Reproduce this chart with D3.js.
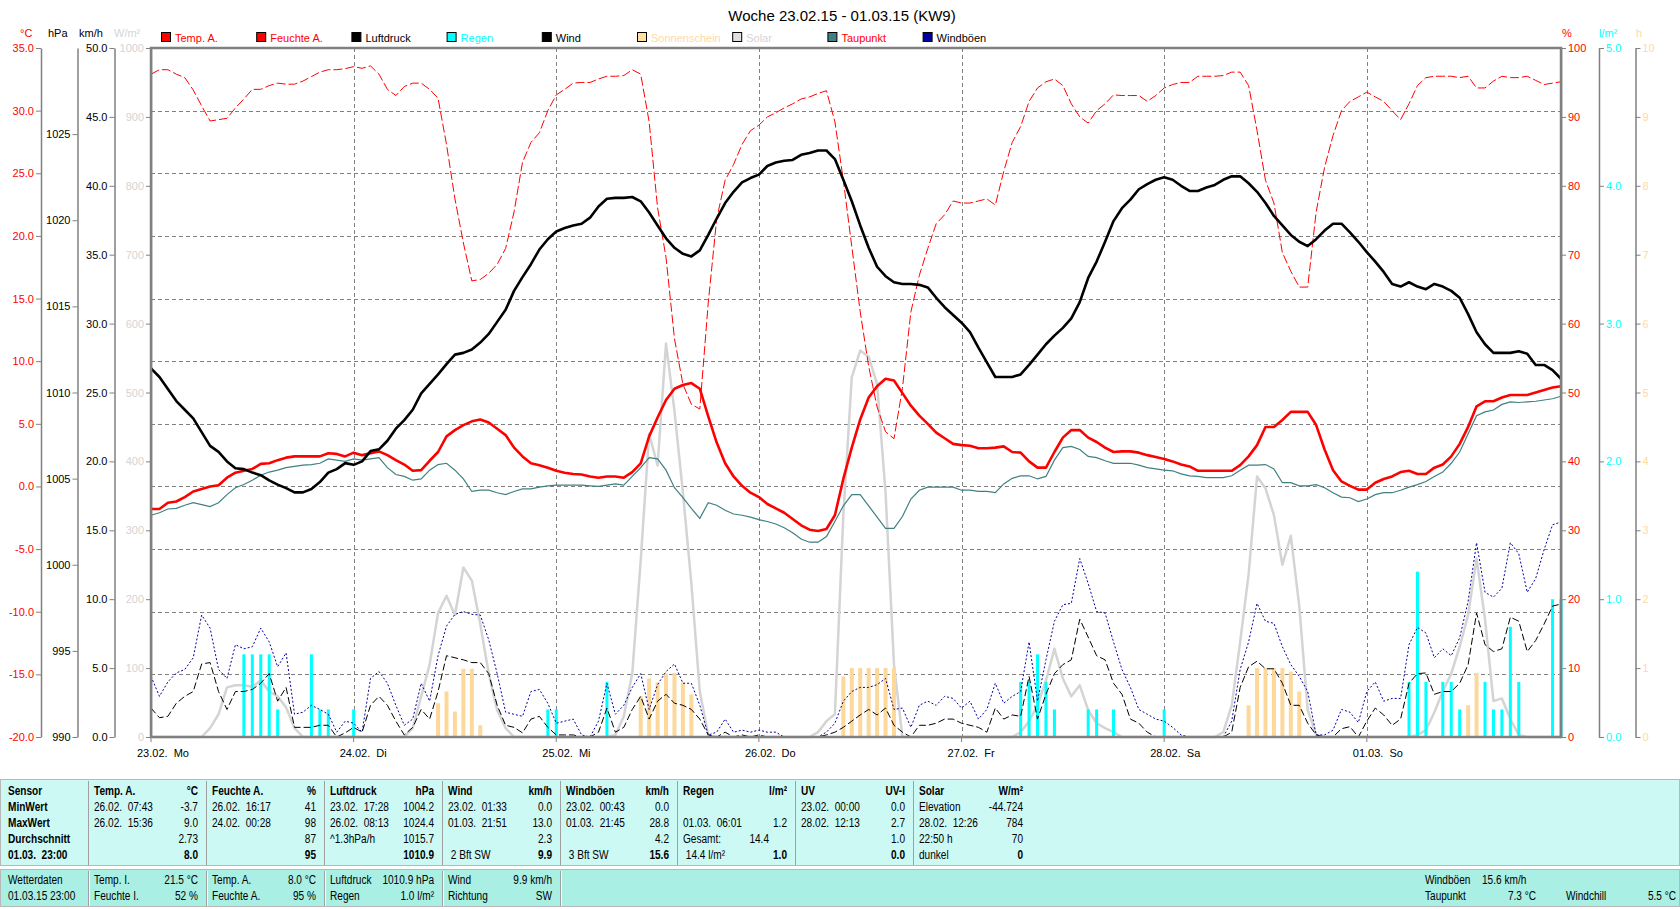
<!DOCTYPE html>
<html><head><meta charset="utf-8">
<script src="https://cdn.jsdelivr.net/npm/d3@7"></script>
<style>
body{margin:0;background:#fff;}
svg{display:block;}
text{font-family:"Liberation Sans",Arial,sans-serif;}
.tbl text{font-family:"Liberation Sans Narrow","Liberation Sans",Arial,sans-serif;font-size:12px;}
</style></head><body>
<svg id="c" width="1680" height="909"></svg>
<script>
// ---------------- DATA ----------------
const title = "Woche 23.02.15 - 01.03.15 (KW9)";
const dayLabels = ["23.02.  Mo","24.02.  Di","25.02.  Mi","26.02.  Do","27.02.  Fr","28.02.  Sa","01.03.  So"];
const dayStartHours = [0,24,48,72,96,120,144];

const tempTicks = [-20,-15,-10,-5,0,5,10,15,20,25,30,35];
const hpaTicks = [990,995,1000,1005,1010,1015,1020,1025];
const kmhTicks = [0,5,10,15,20,25,30,35,40,45,50];
const solarTicks = [0,100,200,300,400,500,600,700,800,900,1000];
const humTicks = [0,10,20,30,40,50,60,70,80,90,100];
const rainTicks = [0,1,2,3,4,5];
const sunTicks = [0,1,2,3,4,5,6,7,8,9,10];

// hourly values, 23.02 00:00 .. 01.03 23:00
const temp = [-1.8,-1.8,-1.3,-1.2,-0.85,-0.4,-0.2,0.0,0.1,0.7,
1.1,1.25,1.4,1.8,1.85,2.1,2.3,2.4,2.4,2.4,
2.4,2.65,2.6,2.4,2.7,2.5,2.65,2.8,2.5,2.1,
1.75,1.25,1.3,2.05,2.75,4.0,4.5,4.9,5.2,5.35,
5.1,4.6,4.1,3.1,2.4,1.85,1.7,1.5,1.25,1.1,
1.0,0.95,0.8,0.7,0.8,0.8,0.7,1.15,1.85,4.0,
5.5,6.9,7.8,8.1,8.25,7.8,5.6,3.5,1.85,0.8,
0.05,-0.5,-0.85,-1.4,-1.75,-2.1,-2.6,-3.1,-3.45,-3.55,
-3.4,-2.3,0.6,3.1,5.35,7.1,8.0,8.6,8.45,7.45,
6.45,5.65,5.0,4.3,3.85,3.4,3.3,3.25,3.05,3.05,
3.1,3.2,2.75,2.7,2.0,1.5,1.5,2.75,3.9,4.5,
4.5,3.9,3.55,3.1,2.75,2.8,2.8,2.7,2.5,2.35,
2.2,2.0,1.75,1.6,1.25,1.25,1.25,1.25,1.25,1.7,
2.4,3.3,4.75,4.75,5.3,5.95,5.95,5.95,4.9,2.95,
1.3,0.4,0.05,-0.25,-0.25,0.3,0.6,0.8,1.15,1.25,
1.0,1.0,1.5,1.75,2.4,3.4,4.75,6.4,6.8,6.8,
7.1,7.3,7.3,7.3,7.5,7.7,7.9,8.0];

const dewPoint = [-2.3,-2.1,-1.8,-1.75,-1.5,-1.3,-1.45,-1.6,-1.3,-0.65,
-0.1,0.15,0.5,0.9,1.15,1.3,1.5,1.6,1.7,1.75,
1.85,2.2,2.1,2.0,2.2,2.1,2.2,2.3,1.5,0.95,
0.8,0.5,0.6,1.3,1.75,1.85,1.3,0.6,-0.4,-0.3,
-0.3,-0.5,-0.65,-0.4,-0.2,-0.2,-0.05,0.05,0.1,0.1,
0.1,0.1,0.05,0.0,0.1,0.2,0.1,0.8,1.5,2.3,
2.2,1.3,-0.1,-0.9,-1.75,-2.55,-1.3,-1.5,-1.9,-2.2,
-2.3,-2.45,-2.65,-2.8,-3.0,-3.3,-3.7,-4.2,-4.45,-4.45,
-4.0,-2.8,-1.55,-0.65,-0.65,-1.55,-2.45,-3.35,-3.35,-2.4,
-1.0,-0.3,-0.05,-0.05,-0.05,-0.05,-0.3,-0.3,-0.4,-0.4,
-0.5,0.2,0.65,0.85,0.85,0.6,0.8,2.1,3.1,3.2,
2.95,2.4,2.3,2.05,1.85,1.85,1.85,1.7,1.5,1.4,
1.3,1.25,1.0,0.85,0.8,0.7,0.7,0.7,0.85,1.3,
1.7,1.7,1.75,1.4,0.3,0.3,0.05,0.05,0.15,-0.1,
-0.5,-0.85,-0.9,-1.2,-1.0,-0.65,-0.5,-0.5,-0.3,-0.05,
0.15,0.4,0.8,1.15,1.85,2.75,4.2,5.65,5.95,6.1,
6.55,6.75,6.7,6.75,6.8,6.9,7.0,7.2];

const pressure = [1011.4,1010.9,1010.2,1009.5,1009.0,1008.5,1007.7,1006.9,1006.55,1006.0,
1005.6,1005.55,1005.35,1005.2,1004.9,1004.65,1004.45,1004.2,1004.2,1004.4,
1004.8,1005.35,1005.55,1005.9,1005.8,1006.0,1006.6,1006.7,1007.2,1007.9,
1008.4,1009.0,1009.95,1010.5,1011.05,1011.65,1012.2,1012.3,1012.5,1012.9,
1013.4,1014.1,1014.8,1015.9,1016.7,1017.45,1018.3,1018.9,1019.35,1019.55,
1019.7,1019.8,1020.15,1020.8,1021.25,1021.3,1021.3,1021.35,1021.1,1020.45,
1019.7,1018.95,1018.4,1018.05,1017.9,1018.25,1019.15,1020.1,1021.0,1021.65,
1022.2,1022.45,1022.65,1023.15,1023.35,1023.45,1023.5,1023.8,1023.9,1024.05,
1024.05,1023.55,1022.35,1021.1,1019.7,1018.4,1017.3,1016.75,1016.4,1016.3,
1016.3,1016.25,1016.1,1015.5,1014.95,1014.5,1014.05,1013.5,1012.6,1011.75,
1010.9,1010.9,1010.9,1011.05,1011.6,1012.2,1012.8,1013.3,1013.75,1014.3,
1015.25,1016.65,1017.6,1018.75,1019.95,1020.7,1021.2,1021.8,1022.1,1022.35,
1022.5,1022.35,1022.0,1021.7,1021.7,1021.9,1022.05,1022.35,1022.55,1022.55,
1022.15,1021.65,1021.0,1020.25,1019.7,1019.15,1018.75,1018.5,1018.9,1019.4,
1019.8,1019.8,1019.3,1018.75,1018.15,1017.6,1017.0,1016.3,1016.15,1016.4,
1016.15,1016.0,1016.3,1016.15,1015.9,1015.5,1014.55,1013.5,1012.8,1012.3,
1012.3,1012.3,1012.4,1012.25,1011.6,1011.6,1011.3,1010.8];

const humidity = [96.2,96.85,96.85,96.2,95.7,93.9,91.6,89.4,89.6,89.8,
91.3,92.6,94.0,94.0,94.55,94.9,94.75,94.75,95.2,95.85,
96.5,96.85,96.85,97.0,97.3,97.05,97.4,96.2,94.0,93.1,
94.4,94.9,94.9,94.0,92.7,86.0,78.1,71.7,66.2,66.4,
67.3,68.6,70.9,76.2,83.4,86.3,87.7,90.9,93.2,94.0,
94.9,95.0,95.0,95.5,95.9,95.9,96.0,96.85,96.2,89.3,
76.8,69.6,57.8,51.2,48.3,47.6,63.0,75.2,80.8,83.1,
86.0,88.0,88.8,90.0,90.6,91.3,91.9,92.6,92.9,93.4,
93.8,89.3,80.8,71.2,61.7,53.8,47.9,44.3,43.3,50.6,
61.7,67.0,70.9,74.5,75.8,77.8,77.5,77.5,77.8,78.1,
77.2,82.1,86.3,88.6,92.25,94.2,95.1,95.5,94.55,91.9,
90.0,89.1,90.9,91.9,93.2,93.1,93.1,93.1,92.25,93.1,
94.2,94.7,95.0,95.0,95.9,95.9,95.9,96.0,96.5,96.5,
94.55,88.0,80.8,77.5,70.3,67.6,65.3,65.3,76.2,82.7,
87.3,90.9,92.25,92.9,93.6,92.9,92.25,90.9,89.6,91.9,
94.55,95.7,95.9,95.9,95.9,95.7,95.9,94.2,94.2,95.2,
95.9,95.7,95.7,95.9,95.3,94.7,94.9,95.1];

const solar = [0,0,0,0,0,0,0,13,33,72,
75,75,73,82,66,59,43,13,0,0,
0,0,0,0,0,0,0,0,0,0,
0,13,59,105,180,205,177,246,227,164,
92,39,13,0,0,0,0,0,0,0,
0,0,0,0,0,3,30,92,256,440,
394,571,473,355,223,66,3,0,0,0,
0,0,0,0,0,0,0,0,0,7,
23,33,322,522,561,552,512,355,105,0,
0,0,0,0,0,0,0,0,0,0,
0,0,0,7,23,46,82,128,85,59,
75,39,20,13,7,0,0,0,0,0,
0,0,0,0,0,0,0,7,46,138,
236,378,361,322,250,292,190,39,3,0,
0,0,0,0,0,0,0,0,0,0,
3,10,36,66,92,131,177,259,171,52,
56,26,3,0,0,0,0,0];

const wind = [2.1,1.4,1.5,2.45,2.95,3.3,5.3,5.4,3.3,2.0,
3.3,3.3,3.45,3.9,4.6,2.6,3.6,0.7,0.7,0.7,
0.85,0.85,0,0.3,0.7,0.35,2.3,2.95,2.3,1.15,
0.15,0.7,2.0,1.3,3.3,5.9,5.75,5.6,5.4,5.4,
4.6,2.3,0.85,0.7,0.3,1.3,1.5,0.7,0.15,0.15,
0.15,0,0,0.35,2.1,0.35,0.7,2.0,2.95,1.3,
2.6,3.1,2.45,2.3,2.0,1.3,0.15,0,0.35,0,
0.15,0,0.15,0,0,0,0,0,0,0,
0.15,0.35,0.7,1.15,1.6,2.0,1.6,2.1,0.85,0.35,
0,0.85,0.85,1.0,1.3,1.3,1.0,0.85,0.7,0.35,
2.1,1.3,1.6,1.5,4.4,1.3,3.1,4.6,5.25,5.6,
8.55,7.25,5.9,5.6,3.9,3.1,1.3,1.0,0.35,0,
0,0,0,0,0,0,0,0,0.35,3.6,
5.1,5.5,4.95,4.95,3.9,2.3,2.3,1.0,0.15,0,
0,0.6,0.75,0,1.15,2.1,1.6,0.85,1.3,3.9,
4.6,4.65,3.1,3.3,3.3,3.9,5.25,9.0,6.7,6.2,
6.4,8.7,8.4,6.2,7.0,8.2,9.5,9.65];

const gusts = [4.4,2.95,4.0,4.65,4.9,5.75,8.85,7.9,4.9,4.25,
6.7,6.4,6.55,7.9,6.9,5.1,6.1,1.65,1.8,2.3,
2.0,1.65,0.35,1.15,1.0,0.35,4.25,4.75,3.9,2.3,
0.85,1.3,3.9,2.6,5.9,8.05,8.9,9.1,8.9,8.85,
7.05,4.6,1.8,1.65,1.5,3.3,3.45,2.45,1.0,1.15,
1.3,0.15,0,1.15,3.9,1.65,2.3,3.6,4.6,2.0,
3.8,4.75,5.3,3.9,3.9,2.3,0.15,0.35,1.3,0.35,
0.5,0.35,0.5,0.35,0.35,0,0,0,0,0,
0.35,1.0,2.6,3.3,3.6,3.6,3.8,4.25,2.0,2.1,
0.7,2.3,2.6,2.3,2.95,2.8,2.1,2.6,1.3,2.0,
3.9,2.45,2.95,3.3,6.9,2.6,5.6,8.4,9.6,9.7,
12.95,11.15,9.1,9.0,6.9,4.9,3.6,2.0,1.65,1.3,
1.15,0.7,0.15,0,0,0,0,0,1.15,4.9,
6.9,9.7,8.4,8.25,6.55,5.25,4.4,3.3,0.15,0.15,
0.5,2.0,1.8,1.05,3.3,4.0,2.6,2.8,2.8,6.7,
7.95,7.55,5.75,6.4,5.9,7.2,9.85,14.1,10.5,10.15,
10.8,14.1,13.3,10.5,11.5,13.6,15.4,15.6];

const rainHours = [11,12,13,14,15,19,20,21,24,47,48,54,103,104,105,106,107,111,112,114,120,149,150,151,153,154,155,158,159,160,161,162,166,167];
const rainValues = [0.6,0.6,0.6,0.6,0.2,0.6,0.2,0.2,0.2,0.2,0.2,0.4,0.4,0.4,0.6,0.4,0.2,0.2,0.2,0.2,0.2,0.4,1.2,0.4,0.4,0.4,0.2,0.4,0.2,0.2,0.8,0.4,1.0,1.0];

const sunHours = [34,35,36,37,38,39,58,59,60,61,62,63,64,82,83,84,85,86,87,88,130,131,132,133,134,135,136,156,157];
const sunValues = [0.49,0.66,0.37,0.99,0.99,0.17,0.59,0.85,0.79,0.92,0.93,0.79,0.62,0.88,1,1,1,1,1,1,0.46,1,1,1,1,0.95,0.66,0.46,0.93];

const legendNames = ["Temp. A.","Feuchte A.","Luftdruck","Regen","Wind","Sonnenschein","Solar","Taupunkt","Windböen"];
const legendBoxColors = ["#ff0000","#ff0000","#000000","#00ffff","#000000","#ffe0a0","#e0e0e0","#408080","#0000a0"];
const legendTextColors = ["#ff0000","#ff0000","#000000","#00ffff","#000000","#ffd9a0","#d4d4d4","#ff0000","#000000"];

const tableHeader = [["Sensor",""],["Temp. A.","°C"],["Feuchte A.","%"],["Luftdruck","hPa"],["Wind","km/h"],["Windböen","km/h"],["Regen","l/m²"],["UV","UV-I"],["Solar","W/m²"]];
const tableMin = [["MinWert",""],["26.02.  07:43","-3.7"],["26.02.  16:17","41"],["23.02.  17:28","1004.2"],["23.02.  01:33","0.0"],["23.02.  00:43","0.0"],["",""],["23.02.  00:00","0.0"],["Elevation","-44.724"]];
const tableMax = [["MaxWert",""],["26.02.  15:36","9.0"],["24.02.  00:28","98"],["26.02.  08:13","1024.4"],["01.03.  21:51","13.0"],["01.03.  21:45","28.8"],["01.03.  06:01","1.2"],["28.02.  12:13","2.7"],["28.02.  12:26","784"]];
const tableAvg = [["Durchschnitt",""],["","2.73"],["","87"],["^1.3hPa/h","1015.7"],["","2.3"],["","4.2"],["Gesamt:","14.4"],["","1.0"],["22:50 h","70"]];
const tableNow = [["01.03.  23:00",""],["","8.0"],["","95"],["","1010.9"],[" 2 Bft SW","9.9"],[" 3 Bft SW","15.6"],[" 14.4 l/m²","1.0"],["","0.0"],["dunkel","0"]];

const curTop = [["Wetterdaten",""],["Temp. I.","21.5 °C"],["Temp. A.","8.0 °C"],["Luftdruck","1010.9 hPa"],["Wind","9.9 km/h"]];
const curBottom = [["01.03.15 23:00",""],["Feuchte I.","52 %"],["Feuchte A.","95 %"],["Regen","1.0 l/m²"],["Richtung","SW"]];

// ---------------- LAYOUT ----------------
const svg = d3.select("#c");
const L=151, R=1561, T=48, B=737;
const x = d3.scaleLinear().domain([0,167]).range([L,R]);
const yT = d3.scaleLinear().domain([-20,35]).range([B,T]);
const yP = d3.scaleLinear().domain([990,1030]).range([B,T]);
const yW = d3.scaleLinear().domain([0,50]).range([B,T]);
const yS = d3.scaleLinear().domain([0,1000]).range([B,T]);
const yH = d3.scaleLinear().domain([0,100]).range([B,T]);
const yR = d3.scaleLinear().domain([0,5]).range([B,T]);
const ySun = d3.scaleLinear().domain([0,10]).range([B,T]);

// Title
svg.append("text").attr("x",842).attr("y",21).attr("text-anchor","middle")
  .attr("font-size",15).text(title);

// Unit headers
const units = [["°C",20,"#ff0000"],["hPa",48,"#000"],["km/h",79,"#000"],["W/m²",114,"#d4d4d4"],
  ["%",1562,"#ff0000"],["l/m²",1599,"#00ffff"],["h",1636,"#ffd9a0"]];
svg.selectAll("text.unit").data(units).enter().append("text").attr("class","unit")
  .attr("x",d=>d[1]).attr("y",37).attr("font-size",11).attr("fill",d=>d[2]).text(d=>d[0]);

// Legend
const lg = svg.append("g");
legendNames.forEach((n,i)=>{
  const lx = 161 + i*95.2;
  lg.append("rect").attr("x",lx+0.5).attr("y",32.5).attr("width",9).attr("height",9)
    .attr("fill",legendBoxColors[i]).attr("stroke","#000");
  lg.append("text").attr("x",lx+14).attr("y",41.5).attr("font-size",11)
    .attr("fill",legendTextColors[i]).text(n);
});

// Axes helper
function styleAxis(g,color){
  g.selectAll(".domain").attr("stroke","#808080").attr("stroke-width",1.5);
  g.selectAll(".tick line").attr("stroke","#808080");
  g.selectAll(".tick text").attr("fill",color).attr("font-size",11)
    .attr("font-family","'Liberation Sans',Arial,sans-serif");
}
function leftAxis(scale,xpos,ticks,fmt,color){
  const g = svg.append("g").attr("transform",`translate(${xpos},0)`)
    .call(d3.axisLeft(scale).tickValues(ticks).tickFormat(fmt).tickSize(5).tickSizeOuter(0).tickPadding(2));
  styleAxis(g,color);
}
function rightAxis(scale,xpos,ticks,fmt,color){
  const g = svg.append("g").attr("transform",`translate(${xpos},0)`)
    .call(d3.axisRight(scale).tickValues(ticks).tickFormat(fmt).tickSize(5).tickSizeOuter(0).tickPadding(2));
  styleAxis(g,color);
}
const f1 = d=>d.toFixed(1);
leftAxis(yT,41,tempTicks,f1,"#ff0000");
leftAxis(yP,77.5,hpaTicks,d=>String(d),"#000");
leftAxis(yW,114.5,kmhTicks,f1,"#000");
leftAxis(yS,151,solarTicks,d=>String(d),"#d4d4d4");
rightAxis(yH,1561,humTicks,d=>String(d),"#ff0000");
rightAxis(yR,1599,rainTicks,f1,"#00ffff");
rightAxis(ySun,1635.5,sunTicks,d=>String(d),"#ffd9a0");

// Grid
const grid = svg.append("g").attr("stroke","#808080").attr("stroke-dasharray","4,3").attr("stroke-width",1);
tempTicks.filter(t=>t>-20 && t<35).forEach(t=>{
  grid.append("line").attr("x1",L).attr("x2",R).attr("y1",Math.round(yT(t))+0.5).attr("y2",Math.round(yT(t))+0.5);
});
dayStartHours.slice(1).forEach(h=>{
  grid.append("line").attr("x1",Math.round(x(h))+0.5).attr("x2",Math.round(x(h))+0.5).attr("y1",T).attr("y2",B);
});

// Day labels and ticks
dayStartHours.forEach((h,i)=>{
  svg.append("line").attr("x1",x(h)).attr("x2",x(h)).attr("y1",B).attr("y2",B+5).attr("stroke","#808080");
  svg.append("text").attr("x",x(h)-14).attr("y",757).attr("font-size",11)
    .attr("xml:space","preserve").style("white-space","pre").text(dayLabels[i]);
});

// Solar
svg.append("path").datum(solar).attr("fill","none").attr("stroke","#d4d4d4").attr("stroke-width",2.5)
  .attr("stroke-linejoin","round").attr("d",d3.line().x((d,i)=>x(i)).y(d=>yS(d)));

// Sunshine bars
svg.append("g").selectAll("rect").data(sunHours).enter().append("rect")
  .attr("x",d=>x(d)-2).attr("width",4)
  .attr("y",(d,i)=>ySun(sunValues[i])).attr("height",(d,i)=>B-ySun(sunValues[i]))
  .attr("fill","#fdd89b");

// Rain bars
svg.append("g").selectAll("rect").data(rainHours).enter().append("rect")
  .attr("x",d=>x(d)-1.5).attr("width",3)
  .attr("y",(d,i)=>yR(rainValues[i])).attr("height",(d,i)=>B-yR(rainValues[i]))
  .attr("fill","#00ffff");

// Gusts
svg.append("path").datum(gusts).attr("fill","none").attr("stroke","#0000a0").attr("stroke-width",1)
  .attr("stroke-dasharray","2,2").attr("d",d3.line().x((d,i)=>x(i)).y(d=>yW(d)));
// Wind
svg.append("path").datum(wind).attr("fill","none").attr("stroke","#000").attr("stroke-width",1)
  .attr("stroke-dasharray","7,3").attr("d",d3.line().x((d,i)=>x(i)).y(d=>yW(d)));
// Dew point
svg.append("path").datum(dewPoint).attr("fill","none").attr("stroke","#408080").attr("stroke-width",1.2)
  .attr("d",d3.line().x((d,i)=>x(i)).y(d=>yT(d)));
// Humidity
svg.append("path").datum(humidity).attr("fill","none").attr("stroke","#ff0000").attr("stroke-width",1)
  .attr("stroke-dasharray","9,3").attr("d",d3.line().x((d,i)=>x(i)).y(d=>yH(d)));
// Temperature
svg.append("path").datum(temp).attr("fill","none").attr("stroke","#ff0000").attr("stroke-width",2.6)
  .attr("stroke-linejoin","round").attr("d",d3.line().x((d,i)=>x(i)).y(d=>yT(d)));
// Pressure
svg.append("path").datum(pressure).attr("fill","none").attr("stroke","#000").attr("stroke-width",2.6)
  .attr("stroke-linejoin","round").attr("d",d3.line().x((d,i)=>x(i)).y(d=>yP(d)));

// Frame
svg.append("rect").attr("x",L).attr("y",T).attr("width",R-L).attr("height",B-T)
  .attr("fill","none").attr("stroke","#808080").attr("stroke-width",2.5);

// ---------------- TABLE ----------------
const tb = svg.append("g").attr("class","tbl");
tb.append("rect").attr("x",0.5).attr("y",779.5).attr("width",1679).attr("height",86)
  .attr("fill","#cdf9f5").attr("stroke","#b8b8b8");
tb.append("rect").attr("x",0.5).attr("y",869.5).attr("width",1679).attr("height",37)
  .attr("fill","#a9efe3").attr("stroke","#b8b8b8");
const seps = [0,88,206,324,442,560,677,795,913,1031];
seps.slice(1,9).forEach(s=>{
  tb.append("line").attr("x1",s+0.5).attr("x2",s+0.5).attr("y1",781).attr("y2",865).attr("stroke","#a0a0a0");
});
[88,206,324,442,560].forEach(s=>{
  tb.append("line").attr("x1",s+0.5).attr("x2",s+0.5).attr("y1",871).attr("y2",906).attr("stroke","#a0a0a0");
  tb.append("line").attr("x1",s+1.5).attr("x2",s+1.5).attr("y1",871).attr("y2",906).attr("stroke","#e8fffb");
});
const rows = [tableHeader,tableMin,tableMax,tableAvg,tableNow];
const rowY = [795,811,827,843,859];
rows.forEach((row,ri)=>{
  row.forEach((cell,ci)=>{
    const lx = ci===0 ? 8 : seps[ci]+6;
    let rx = seps[ci+1]-8;
    if(ri===3 && ci===6) rx = 769;
    const boldL = ri===0 || ci===0;
    const boldR = ri===0 || ri===4;
    if(cell[0]) tb.append("text").attr("x",lx).attr("y",rowY[ri]).attr("font-weight",boldL?"bold":"normal")
      .attr("xml:space","preserve").style("white-space","pre").text(cell[0]);
    if(cell[1]) tb.append("text").attr("x",rx).attr("y",rowY[ri]).attr("text-anchor","end")
      .attr("font-weight",boldR?"bold":"normal").text(cell[1]);
  });
});
[curTop,curBottom].forEach((row,ri)=>{
  const yy = ri===0 ? 884 : 900;
  row.forEach((cell,ci)=>{
    const lx = ci===0 ? 8 : seps[ci]+6;
    const rx = seps[ci+1]-8;
    if(cell[0]) tb.append("text").attr("x",lx).attr("y",yy).text(cell[0]);
    if(cell[1]) tb.append("text").attr("x",rx).attr("y",yy).attr("text-anchor","end").text(cell[1]);
  });
});
tb.append("text").attr("x",1425).attr("y",884).text("Windböen");
tb.append("text").attr("x",1482).attr("y",884).text("15.6 km/h");
tb.append("text").attr("x",1425).attr("y",900).text("Taupunkt");
tb.append("text").attr("x",1536).attr("y",900).attr("text-anchor","end").text("7.3 °C");
tb.append("text").attr("x",1566).attr("y",900).text("Windchill");
tb.append("text").attr("x",1676).attr("y",900).attr("text-anchor","end").text("5.5 °C");

// condense table text (narrow font look)
tb.selectAll("text").each(function(){
  const w = this.getComputedTextLength();
  if(w>0) d3.select(this).attr("textLength",(w*0.84).toFixed(1)).attr("lengthAdjust","spacingAndGlyphs");
});
</script>
</body></html>
